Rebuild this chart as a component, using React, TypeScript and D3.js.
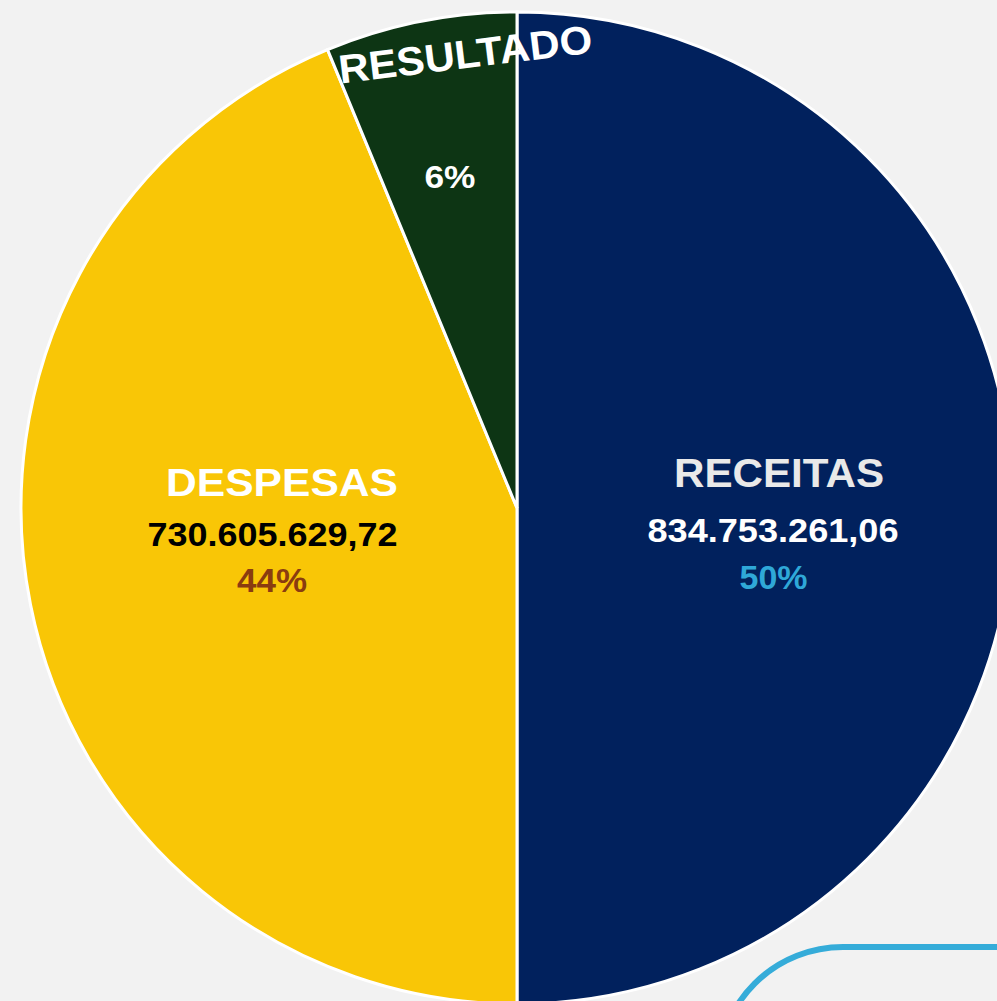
import React from "react";
import * as d3 from "d3";

const categories = ["RECEITAS", "DESPESAS", "RESULTADO"];
const values = [834753261.06, 730605629.72, 104147631.34];
const valueLabels = ["834.753.261,06", "730.605.629,72", ""];
const percentLabels = ["50%", "44%", "6%"];
const colors = ["#01215d", "#f9c606", "#0d3514"];

const W = 997;
const H = 1001;
const cx = 517;
const cy = 508;
const R = 496;
const FONT = "'Liberation Sans', Arial, sans-serif";

export default function App() {
  const pie = d3
    .pie<number>()
    .sort(null)
    .startAngle(0)
    .endAngle(2 * Math.PI)
    .value((d) => d);
  const arcs = pie(values);
  const arc = d3.arc<d3.PieArcDatum<number>>().innerRadius(0).outerRadius(R);

  const T = (props: any) => (
    <text
      fontFamily={FONT}
      fontWeight="bold"
      lengthAdjust="spacingAndGlyphs"
      {...props}
    />
  );

  return (
    <svg
      width={W}
      height={H}
      style={{ position: "fixed", left: 0, top: 0, background: "#f2f2f2" }}
    >
      <rect x={0} y={0} width={W} height={H} fill="#f2f2f2" />
      <g transform={`translate(${cx},${cy})`}>
        {arcs.map((a, i) => (
          <path
            key={categories[i]}
            d={arc(a) || ""}
            fill={colors[i]}
            stroke="#ffffff"
            strokeWidth={3}
          />
        ))}
      </g>
      <rect
        x={718}
        y={947}
        width={500}
        height={300}
        rx={125}
        ry={125}
        fill="none"
        stroke="#35acd9"
        strokeWidth={6}
      />
      <T x={779} y={487} fontSize={40} fill="#e9e9e9" textAnchor="middle" textLength={210}>
        {categories[0]}
      </T>
      <T x={773} y={542} fontSize={34} fill="#ffffff" textAnchor="middle" textLength={251}>
        {valueLabels[0]}
      </T>
      <T x={773.5} y={589} fontSize={34} fill="#2fa8d8" textAnchor="middle" textLength={68}>
        {percentLabels[0]}
      </T>
      <T x={282} y={496} fontSize={39} fill="#ffffff" textAnchor="middle" textLength={232}>
        {categories[1]}
      </T>
      <T x={272.5} y={546} fontSize={33} fill="#000000" textAnchor="middle" textLength={250}>
        {valueLabels[1]}
      </T>
      <T x={272} y={592} fontSize={33} fill="#8a3c10" textAnchor="middle" textLength={70}>
        {percentLabels[1]}
      </T>
      <T
        x={0}
        y={0}
        fontSize={40}
        fill="#ffffff"
        textAnchor="middle"
        textLength={255}
        transform="translate(467,68) rotate(-7)"
      >
        {categories[2]}
      </T>
      <T x={450} y={188} fontSize={31} fill="#ffffff" textAnchor="middle" textLength={51}>
        {percentLabels[2]}
      </T>
    </svg>
  );
}
